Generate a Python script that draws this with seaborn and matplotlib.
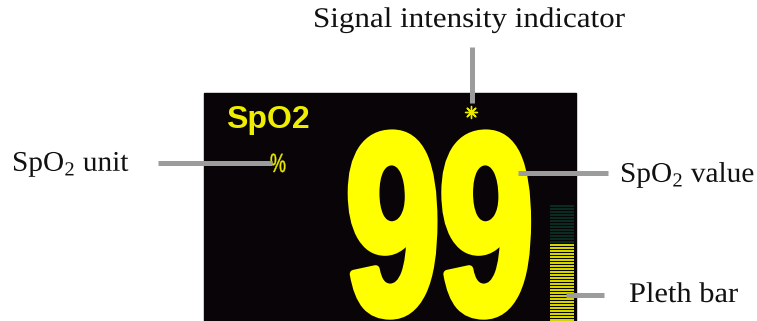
import matplotlib
matplotlib.use('Agg')
import matplotlib.pyplot as plt
import seaborn as sns
from matplotlib.patches import Rectangle
from matplotlib.patheffects import AbstractPathEffect
from matplotlib.transforms import Affine2D

# Display contents
spo2_title = 'SpO2'
spo2_unit = '%'
spo2_value = 99
pleth_segments = 39   # total segments of the pleth bar
pleth_lit = 26        # lit (yellow) segments, counted from the bottom

# Callout labels
callout_labels = ['Signal intensity indicator', r'SpO$_\mathrm{2}$ unit',
                  r'SpO$_\mathrm{2}$ value', 'Pleth bar']


class Squeeze(AbstractPathEffect):
    # scale the glyphs horizontally around the left anchor, optional outline to fatten
    def __init__(self, sx, stroke=0):
        super().__init__()
        self.sx = sx
        self.stroke = stroke

    def draw_path(self, renderer, gc, tpath, affine, rgbFace=None):
        x0 = affine.get_matrix()[0, 2]
        squeeze = Affine2D().translate(-x0, 0).scale(self.sx, 1).translate(x0, 0)
        if self.stroke:
            gc0 = renderer.new_gc()
            gc0.copy_properties(gc)
            gc0.set_linewidth(self.stroke)
            gc0.set_foreground(rgbFace)
            gc0.set_joinstyle('round')
            renderer.draw_path(gc0, tpath, affine + squeeze, rgbFace)
            gc0.restore()
        else:
            renderer.draw_path(gc, tpath, affine + squeeze, rgbFace)


sns.set_style('white')
plt.rcParams['font.family'] = ['Liberation Serif', 'DejaVu Serif']
plt.rcParams['mathtext.fontset'] = 'custom'
plt.rcParams['mathtext.rm'] = 'Liberation Serif'

fig = plt.figure(figsize=(7.57, 3.21), dpi=100)
ax = fig.add_axes([0, 0, 1, 1])
ax.set_xlim(0, 757)
ax.set_ylim(321, 0)
ax.axis('off')

yellow = '#ffff00'
grey = '#9c9c9c'
ink = '#111111'

# monitor screen
ax.add_patch(Rectangle((204, 93), 372, 240, color='#080408', zorder=1))

ax.text(226, 128, spo2_title, color='#eeee00', fontsize=23, fontweight='bold',
        family=['Liberation Sans', 'DejaVu Sans'], zorder=3)
ax.text(270, 172, spo2_unit, color='#e8e800', fontsize=19,
        family=['Liberation Sans', 'DejaVu Sans'], zorder=3,
        path_effects=[Squeeze(0.68, stroke=0.3)])
ax.text(346, 313, str(spo2_value), color=yellow, fontsize=185, fontweight='bold',
        family=['Liberation Sans', 'DejaVu Sans'], zorder=3,
        path_effects=[Squeeze(0.655, stroke=6)])

# signal intensity star
sns.scatterplot(x=[471], y=[112], marker=(8, 2, 0), s=75, color='#e8e800',
                linewidth=1.0, ax=ax, zorder=4, legend=False)

# pleth bar
pitch = 3
seg_y = [321 - pitch * (i + 0.5) for i in range(pleth_segments)]
seg_c = ['#d4d400' if i < pleth_lit else '#0b2a20' for i in range(pleth_segments)]
ax.barh(seg_y, 24, left=550, height=2, color=seg_c, edgecolor='none',
        linewidth=0, zorder=3)

# callout lines
ax.plot([472, 472], [47, 103], color=grey, lw=3.6, solid_capstyle='butt', zorder=5)
ax.plot([158, 272], [163, 163], color=grey, lw=3.6, solid_capstyle='butt', zorder=5)
ax.plot([518, 608], [173, 173], color=grey, lw=3.6, solid_capstyle='butt', zorder=5)
ax.plot([566, 604], [295, 295], color=grey, lw=3.6, solid_capstyle='butt', zorder=5)

# callout labels
ax.text(313, 27, callout_labels[0], fontsize=20.5, color=ink,
        path_effects=[Squeeze(1.09)])
ax.text(12, 171, callout_labels[1], fontsize=20.5, color=ink,
        path_effects=[Squeeze(1.03)])
ax.text(620, 182, callout_labels[2], fontsize=20.5, color=ink,
        path_effects=[Squeeze(1.03)])
ax.text(629, 302, callout_labels[3], fontsize=20.5, color=ink,
        path_effects=[Squeeze(1.07)])

fig.savefig('out.png', dpi=100)
